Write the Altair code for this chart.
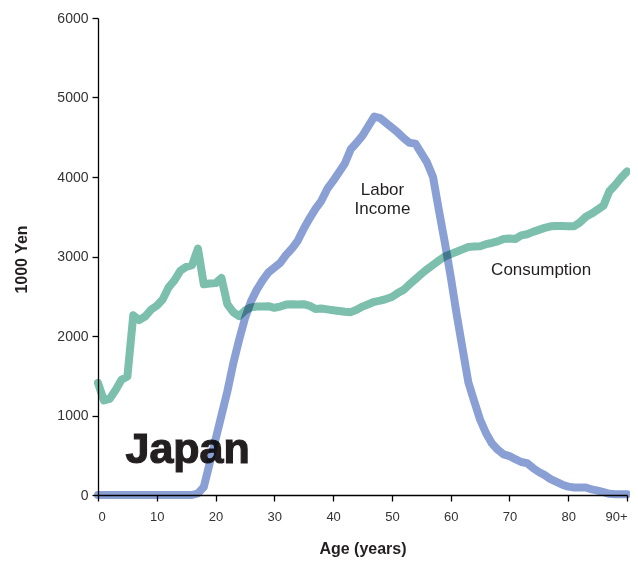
import altair as alt
import pandas as pd

ages = list(range(0, 91))

consumption = [
    1410, 1190, 1210, 1320, 1450, 1490, 2260, 2200, 2245, 2330,
    2380, 2460, 2610, 2700, 2820, 2870, 2890, 3100, 2650, 2660,
    2665, 2730, 2400, 2300, 2250, 2320, 2360, 2370, 2370, 2375,
    2355, 2370, 2395, 2400, 2395, 2400, 2380, 2340, 2345, 2335,
    2325, 2315, 2305, 2300, 2330, 2370, 2400, 2430, 2445, 2465,
    2490, 2540, 2580, 2650, 2715, 2780, 2840, 2895, 2950, 3000,
    3030, 3060, 3090, 3120, 3125, 3130, 3155, 3170, 3190, 3220,
    3225, 3220, 3265, 3280, 3310, 3335, 3360, 3380, 3385, 3385,
    3380, 3380, 3430, 3500, 3540, 3590, 3640, 3820, 3900, 3990,
    4070,
]

labor_income = [
    0, 0, 0, 0, 0, 0, 0, 0, 0, 0,
    0, 0, 0, 0, 0, 0, 0, 20, 100, 400,
    700, 1000, 1300, 1650, 1950, 2220, 2430, 2580, 2700, 2800,
    2860, 2920, 3020, 3100, 3200, 3350, 3480, 3600, 3700, 3850,
    3950, 4060, 4170, 4350, 4430, 4520, 4640, 4760, 4740, 4680,
    4620, 4560, 4490, 4430, 4420, 4300, 4180, 4000, 3580, 3180,
    2750, 2280, 1850, 1420, 1180, 950, 780, 650, 570, 510,
    490, 450, 415, 400, 340, 290, 250, 200, 165, 130,
    105, 95, 95, 95, 70, 55, 35, 15, 10, 10,
    10,
]

series_names = ["Consumption", "Labor Income"]
series_colors = ["#7bbfac", "#8aa0d4"]

x_ticks = [0, 10, 20, 30, 40, 50, 60, 70, 80, 90]
y_ticks = [0, 1000, 2000, 3000, 4000, 5000, 6000]

label_texts = ["Labor", "Income", "Consumption"]
label_ages = [48.4, 48.4, 75.4]
label_values = [3774, 3535, 2768]

country = "Japan"
country_age = 15.25
country_value = 403

df = pd.concat([
    pd.DataFrame({"age": ages, "value": consumption, "series": series_names[0]}),
    pd.DataFrame({"age": ages, "value": labor_income, "series": series_names[1]}),
])
labels_df = pd.DataFrame({"age": label_ages, "value": label_values, "text": label_texts})
country_df = pd.DataFrame({"age": [country_age], "value": [country_value], "text": [country]})

x_scale = alt.Scale(domain=[0, 90], nice=False, zero=False)
y_scale = alt.Scale(domain=[0, 6000], nice=False)

x_axis = alt.Axis(
    values=x_ticks, labelExpr="datum.value == 90 ? '90+' : datum.label",
    title="Age (years)", titleFontSize=16, titleFontWeight="bold", titleColor="#231f20",
    titleFont="Liberation Sans", titleY=58, titleBaseline="alphabetic",
    labelFont="Liberation Sans", labelFontSize=13, labelColor="#333333",
    labelPadding=9, tickSize=6, tickColor="#000000", domainColor="#000000",
    domainWidth=1.3, tickWidth=1.3, grid=False, labelFlush=True, labelOverlap=False,
)
y_axis = alt.Axis(
    values=y_ticks, format="d",
    title="1000 Yen", titleFontSize=16, titleFontWeight="bold", titleColor="#231f20",
    titleFont="Liberation Sans", titleX=-72, titleY=241, titleAngle=270,
    titleAlign="center", titleBaseline="alphabetic",
    labelFont="Liberation Sans", labelFontSize=14, labelColor="#333333",
    labelPadding=4, tickSize=6, tickColor="#000000", domainColor="#000000",
    domainWidth=1.3, tickWidth=1.3, grid=False, labelFlush=False, labelOverlap=False,
)

base_x = alt.X("age:Q", scale=x_scale, axis=x_axis)
base_y = alt.Y("value:Q", scale=y_scale, axis=y_axis)

country_text = alt.Chart(country_df).mark_text(
    font="Liberation Sans", fontWeight="bold", fontSize=43, color="#231f20",
    stroke="#231f20", strokeWidth=1.2,
    align="center", baseline="alphabetic",
).encode(x=base_x, y=base_y, text="text:N")

lines = alt.Chart(df).mark_line(
    strokeWidth=8, strokeCap="round", strokeJoin="round", blend="multiply",
).encode(
    x=base_x, y=base_y,
    color=alt.Color("series:N", scale=alt.Scale(domain=series_names, range=series_colors), legend=None),
    detail="series:N",
)

labels = alt.Chart(labels_df).mark_text(
    font="Liberation Sans", fontSize=17, color="#231f20", align="center", baseline="alphabetic",
).encode(x=base_x, y=base_y, text="text:N")

chart = alt.layer(country_text, lines, labels).properties(
    width=529, height=477,
    background="white",
    padding={"left": 90, "top": 10, "right": 3, "bottom": 62},
    autosize=alt.AutoSizeParams(type="none"),
).configure_view(strokeWidth=0, stroke=None)

chart.save("out.html", embed_options={"renderer": "svg", "actions": False})
